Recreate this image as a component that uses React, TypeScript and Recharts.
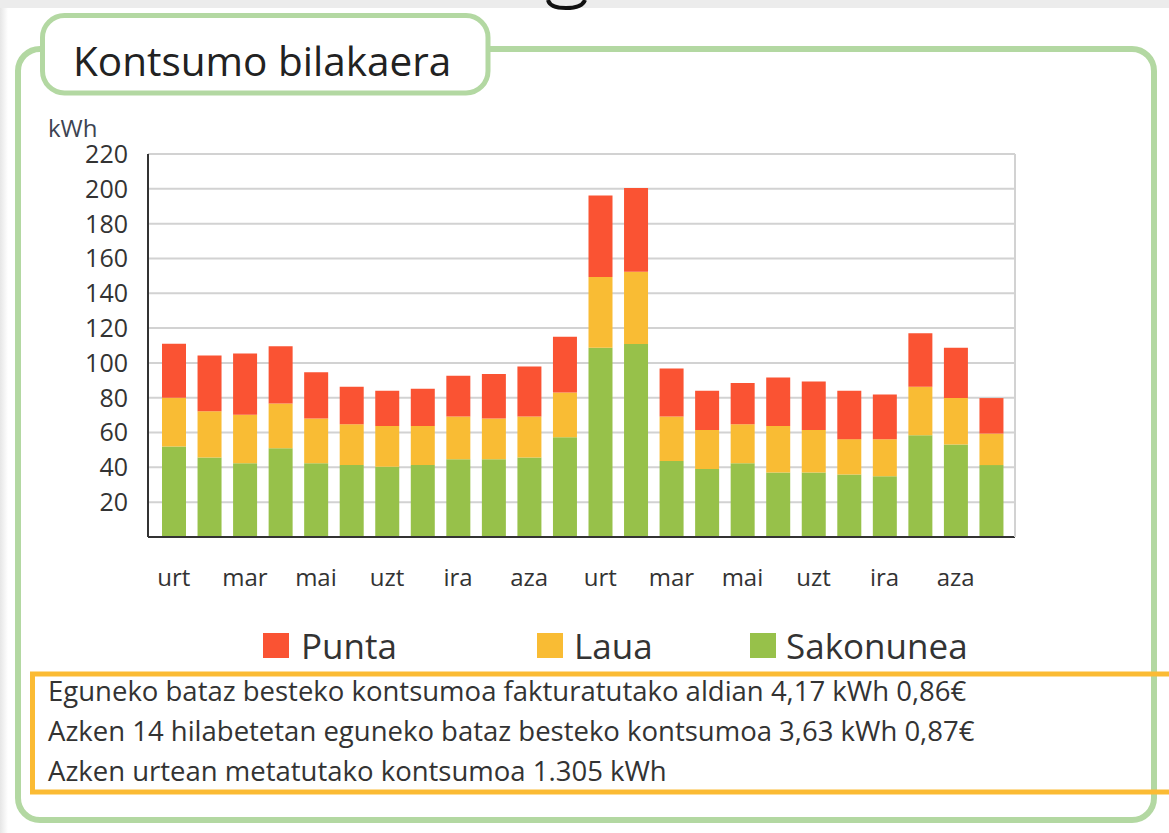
import React from "react";
import { BarChart, Bar, XAxis, YAxis, CartesianGrid } from "recharts";

const months = [
  "urt", "ots", "mar", "api", "mai", "eka", "uzt", "abu", "ira", "urr", "aza", "abe",
  "urt", "ots", "mar", "api", "mai", "eka", "uzt", "abu", "ira", "urr", "aza", "abe",
];
const sakonunea = [52, 45.6, 42.4, 51, 42.4, 41.3, 40.3, 41.3, 44.7, 44.7, 45.6, 57.3, 108.7, 110.8, 43.6, 39.1, 42.4, 37, 37, 35.9, 34.9, 58.5, 53.1, 41.3];
const laua = [28, 26.7, 27.8, 25.7, 25.6, 23.5, 23.4, 22.4, 24.5, 23.3, 23.6, 25.7, 40.6, 41.6, 25.6, 22.4, 22.4, 26.7, 24.5, 20.3, 21.3, 27.8, 26.7, 18.1];
const punta = [31, 32, 35.2, 32.9, 26.7, 21.5, 20.3, 21.4, 23.4, 25.7, 28.7, 32, 46.9, 48, 27.6, 22.5, 23.6, 27.9, 27.8, 27.8, 25.7, 30.8, 28.9, 20.4];
const yTicks = [20, 40, 60, 80, 100, 120, 140, 160, 180, 200, 220];

const seriesNames = { punta: "Punta", laua: "Laua", sakonunea: "Sakonunea" };
const colors = { punta: "#fa5333", laua: "#f9bc34", sakonunea: "#97c14a" };

const infoLines = [
  "Eguneko bataz besteko kontsumoa fakturatutako aldian 4,17 kWh 0,86€",
  "Azken 14 hilabetetan eguneko bataz besteko kontsumoa 3,63 kWh 0,87€",
  "Azken urtean metatutako kontsumoa 1.305 kWh",
];

const data = months.map((m, i) => ({
  month: m,
  sakonunea: sakonunea[i],
  laua: laua[i],
  punta: punta[i],
}));

const FONT = "'Open Sans', sans-serif";
const GREEN = "#b3d8a2";

export default function App() {
  return (
    <div
      style={{
        position: "fixed",
        left: 0,
        top: 0,
        width: 1169,
        height: 833,
        overflow: "hidden",
        background: "#ffffff",
        fontFamily: FONT,
      }}
    >
      <svg width={1169} height={833} style={{ position: "absolute", left: 0, top: 0 }}>
        <defs>
          <linearGradient id="lg" x1="0" x2="1" y1="0" y2="0">
            <stop offset="0" stopColor="#e6e6e6" />
            <stop offset="1" stopColor="#ffffff" />
          </linearGradient>
        </defs>
        <rect x={0} y={0} width={1169} height={8} fill="#ececec" />
        <rect x={0} y={8} width={8} height={825} fill="url(#lg)" />
        <path d="M 548 0 Q 550 8 566 8 Q 582 8 585 0" stroke="#111" strokeWidth={4} fill="none" />
        <rect x={18} y={49} width={1136} height={771} rx={22} ry={22} fill="none" stroke={GREEN} strokeWidth={6} />
        <rect x={42.5} y={15.5} width={445.5} height={77.5} rx={22} ry={22} fill="#ffffff" stroke={GREEN} strokeWidth={5} />
        <text x={73} y={76} fontFamily={FONT} fontSize={40.5} fill="#222">Kontsumo bilakaera</text>
        <text x={48} y={137} fontFamily={FONT} fontSize={24} fill="#3d4452">kWh</text>
        <rect x={263} y={633} width={26} height={25} fill={colors.punta} />
        <text x={301} y={659} fontFamily={FONT} fontSize={35} fill="#333">{seriesNames.punta}</text>
        <rect x={537} y={633} width={26} height={25} fill={colors.laua} />
        <text x={574} y={659} fontFamily={FONT} fontSize={35} fill="#333">{seriesNames.laua}</text>
        <rect x={750} y={633} width={26} height={25} fill={colors.sakonunea} />
        <text x={786} y={659} fontFamily={FONT} fontSize={35} fill="#333">{seriesNames.sakonunea}</text>
        <rect x={32.5} y={674} width={1200} height={118} fill="none" stroke="#fbbb34" strokeWidth={5} />
        {infoLines.map((t, i) => (
          <text key={i} x={48} y={701 + i * 40} fontFamily={FONT} fontSize={27.5} fill="#333">
            {t}
          </text>
        ))}
      </svg>
      <div style={{ position: "absolute", left: 0, top: 0 }}>
        <BarChart
          width={1169}
          height={620}
          data={data}
          margin={{ top: 154, right: 153, left: 0, bottom: 43 }}
          barSize={24}
        >
          <CartesianGrid vertical={false} stroke="#d2d2d2" strokeWidth={2} />
          <XAxis
            dataKey="month"
            interval={1}
            height={40}
            tickSize={0}
            tickMargin={32}
            tickLine={false}
            padding={{ left: 8, right: 6 }}
            axisLine={{ stroke: "#333", strokeWidth: 2 }}
            tick={{ fontSize: 24, fill: "#333", fontFamily: FONT }}
          />
          <YAxis
            domain={[0, 220]}
            ticks={yTicks}
            width={148}
            tickSize={0}
            tickMargin={20}
            tickLine={false}
            axisLine={{ stroke: "#333", strokeWidth: 2 }}
            tick={{ fontSize: 25, fill: "#333", fontFamily: FONT }}
          />
          <YAxis
            yAxisId="right"
            orientation="right"
            domain={[0, 220]}
            width={1}
            tick={false}
            tickLine={false}
            axisLine={{ stroke: "#d2d2d2", strokeWidth: 2 }}
          />
          <Bar dataKey="sakonunea" stackId="a" fill={colors.sakonunea} isAnimationActive={false} />
          <Bar dataKey="laua" stackId="a" fill={colors.laua} isAnimationActive={false} />
          <Bar dataKey="punta" stackId="a" fill={colors.punta} isAnimationActive={false} />
        </BarChart>
      </div>
    </div>
  );
}
